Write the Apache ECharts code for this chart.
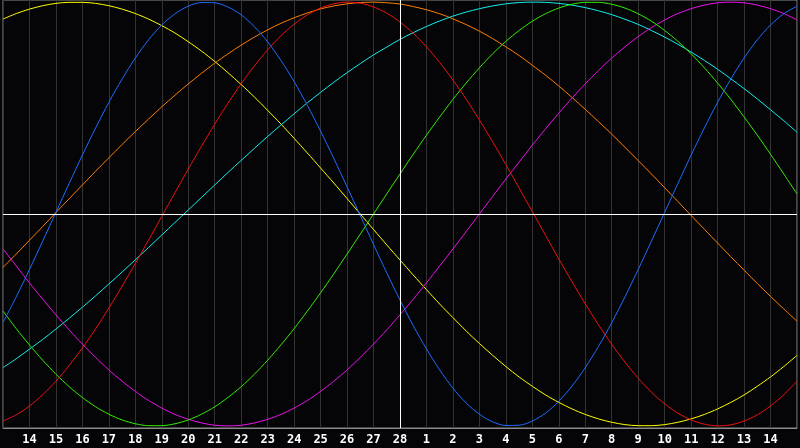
<!DOCTYPE html>
<html>
<head>
<meta charset="utf-8">
<script src="https://cdn.jsdelivr.net/npm/echarts@6/dist/echarts.min.js"></script>
<style>
html,body{margin:0;padding:0;background:#050507;}
#c{width:800px;height:448px;}
</style>
</head>
<body>
<div id="c"></div>
<script>
// day labels for axis positions 0..30 (0 and 30 are the hidden window edges)
const days = ['13','14','15','16','17','18','19','20','21','22','23','24','25','26','27','28',
              '1','2','3','4','5','6','7','8','9','10','11','12','13','14','15'];
const todayIndex = 15;      // '28'
const step = 0.5;           // values are read every half day

// cycle values in percent, read every half day from the chart
const physical = [-51.2,-39.1,-26.2,-12.8,0.8,14.4,27.8,40.6,52.7,63.7,73.6,82.2,89.2,94.5,98.1,99.8,99.7,97.7,94.0,88.4,
  81.2,72.5,62.5,51.3,39.1,26.2,12.8,-0.8,-14.4,-27.8,-40.6,-52.7,-63.7,-73.6,-82.2,-89.2,-94.5,-98.1,-99.8,-99.7,
  -97.7,-94.0,-88.4,-81.2,-72.5,-62.5,-51.3,-39.1,-26.2,-12.8,0.8,14.4,27.8,40.6,52.7,63.7,73.6,82.2,89.2,94.5,98.1];
const emotional = [-97.7,-94.8,-90.6,-85.3,-78.9,-71.5,-63.2,-54.2,-44.4,-34.1,-23.3,-12.3,-1.1,10.1,21.2,32.0,42.4,52.3,61.5,69.9,
  77.5,84.1,89.6,94.0,97.2,99.2,100.0,99.5,97.7,94.8,90.6,85.3,78.9,71.5,63.2,54.2,44.4,34.1,23.3,12.3,
  1.1,-10.1,-21.2,-32.0,-42.4,-52.3,-61.5,-69.9,-77.5,-84.1,-89.6,-94.0,-97.2,-99.2,-100.0,-99.5,-97.7,-94.8,-90.6,-85.3,-78.9];
const intellectual = [-45.8,-54.1,-61.8,-69.0,-75.6,-81.5,-86.6,-91.0,-94.5,-97.2,-99.0,-99.9,-99.9,-99.0,-97.2,-94.5,-91.0,-86.6,-81.5,-75.6,
  -69.0,-61.8,-54.1,-45.8,-37.2,-28.2,-18.9,-9.5,0,9.5,18.9,28.2,37.2,45.8,54.1,61.8,69.0,75.6,81.5,86.6,
  91.0,94.5,97.2,99.0,99.9,99.9,99.0,97.2,94.5,91.0,86.6,81.5,75.6,69.0,61.8,54.1,45.8,37.2,28.2,18.9,9.5];
const intuitive = [-16.5,-24.5,-32.5,-40.2,-47.6,-54.7,-61.4,-67.7,-73.6,-78.9,-83.7,-88.0,-91.6,-94.6,-96.9,-98.6,-99.7,-100.0,-99.7,-98.6,
  -96.9,-94.6,-91.6,-88.0,-83.7,-78.9,-73.6,-67.7,-61.4,-54.7,-47.6,-40.2,-32.5,-24.5,-16.5,-8.3,0,8.3,16.5,24.5,
  32.5,40.2,47.6,54.7,61.4,67.7,73.6,78.9,83.7,88.0,91.6,94.6,96.9,98.6,99.7,100.0,99.7,98.6,96.9,94.6,91.6];
const aesthetic = [92.0,94.6,96.7,98.3,99.4,99.9,99.9,99.4,98.3,96.7,94.6,92.0,88.9,85.4,81.3,76.9,72.0,66.7,61.1,55.2,
  48.9,42.5,35.7,28.8,21.7,14.6,7.3,0,-7.3,-14.6,-21.7,-28.8,-35.7,-42.5,-48.9,-55.2,-61.1,-66.7,-72.0,-76.9,
  -81.3,-85.4,-88.9,-92.0,-94.6,-96.7,-98.3,-99.4,-99.9,-99.9,-99.4,-98.3,-96.7,-94.6,-92.0,-88.9,-85.4,-81.3,-76.9,-72.0,-66.7];
const awareness = [-25.2,-18.9,-12.4,-5.9,0.7,7.2,13.7,20.2,26.5,32.8,38.9,44.8,50.6,56.1,61.4,66.4,71.2,75.6,79.7,83.5,
  86.9,90.0,92.6,94.9,96.8,98.2,99.2,99.8,100.0,99.7,99.1,97.9,96.4,94.5,92.1,89.4,86.3,82.8,78.9,74.8,
  70.2,65.5,60.4,55.0,49.4,43.6,37.7,31.5,25.2,18.9,12.4,5.9,-0.7,-7.2,-13.7,-20.2,-26.5,-32.8,-38.9,-44.8,-50.6];
const spiritual = [-72.5,-68.3,-63.8,-59.2,-54.3,-49.2,-44.0,-38.6,-33.0,-27.4,-21.6,-15.8,-9.9,-4.0,1.9,7.8,13.7,19.6,25.3,31.0,
  36.6,42.0,47.3,52.5,57.4,62.2,66.7,71.0,75.1,78.8,82.4,85.6,88.5,91.1,93.4,95.3,96.9,98.2,99.2,99.8,
  100.0,99.9,99.4,98.6,97.4,95.9,94.1,91.9,89.5,86.6,83.5,80.1,76.4,72.5,68.3,63.8,59.2,54.3,49.2,44.0,38.6];

const seriesDefs = [
  ['Aesthetic', aesthetic, '#ffff00'],
  ['Awareness', awareness, '#ff7f00'],
  ['Spiritual', spiritual, '#11eeee'],
  ['Intuitive', intuitive, '#ee11ee'],
  ['Intellectual', intellectual, '#33ee00'],
  ['Emotional', emotional, '#ee1111'],
  ['Physical', physical, '#1c6dff']
];

const chart = echarts.init(document.getElementById('c'));
const series = seriesDefs.map(([name, vals, color]) => ({
  name, type: 'line', data: vals.map((v, i) => [i * step, v]),
  smooth: 0.3, showSymbol: false, symbol: 'none',
  lineStyle: {color, width: 1}, itemStyle: {color}, silent: true
}));
series.push({
  type: 'line', data: [], silent: true,
  markLine: {
    silent: true, symbol: 'none', label: {show: false},
    lineStyle: {color: '#ffffff', width: 1, type: 'solid'},
    data: [{xAxis: todayIndex}, {yAxis: 0}]
  }
});

chart.setOption({
  animation: false,
  backgroundColor: '#050507',
  grid: {left: 0, right: -1, top: 0, bottom: 20, show: true, borderColor: '#8a8a8a', borderWidth: 1},
  xAxis: {
    type: 'value', min: 0, max: days.length - 1, interval: 1,
    axisLine: {show: true, onZero: false, lineStyle: {color: '#8a8a8a'}},
    axisTick: {show: false},
    axisLabel: {
      formatter: (v) => (v > 0 && v < days.length - 1) ? days[v] : '',
      color: '#ffffff', fontWeight: 'bold', fontSize: 12,
      fontFamily: 'DejaVu Sans Mono', margin: 6
    },
    splitLine: {show: true, lineStyle: {color: '#333333', width: 1}}
  },
  yAxis: {
    type: 'value', min: -101, max: 101,
    axisLine: {show: false}, axisTick: {show: false}, axisLabel: {show: false},
    splitLine: {show: false}
  },
  series
});
</script>
</body>
</html>
